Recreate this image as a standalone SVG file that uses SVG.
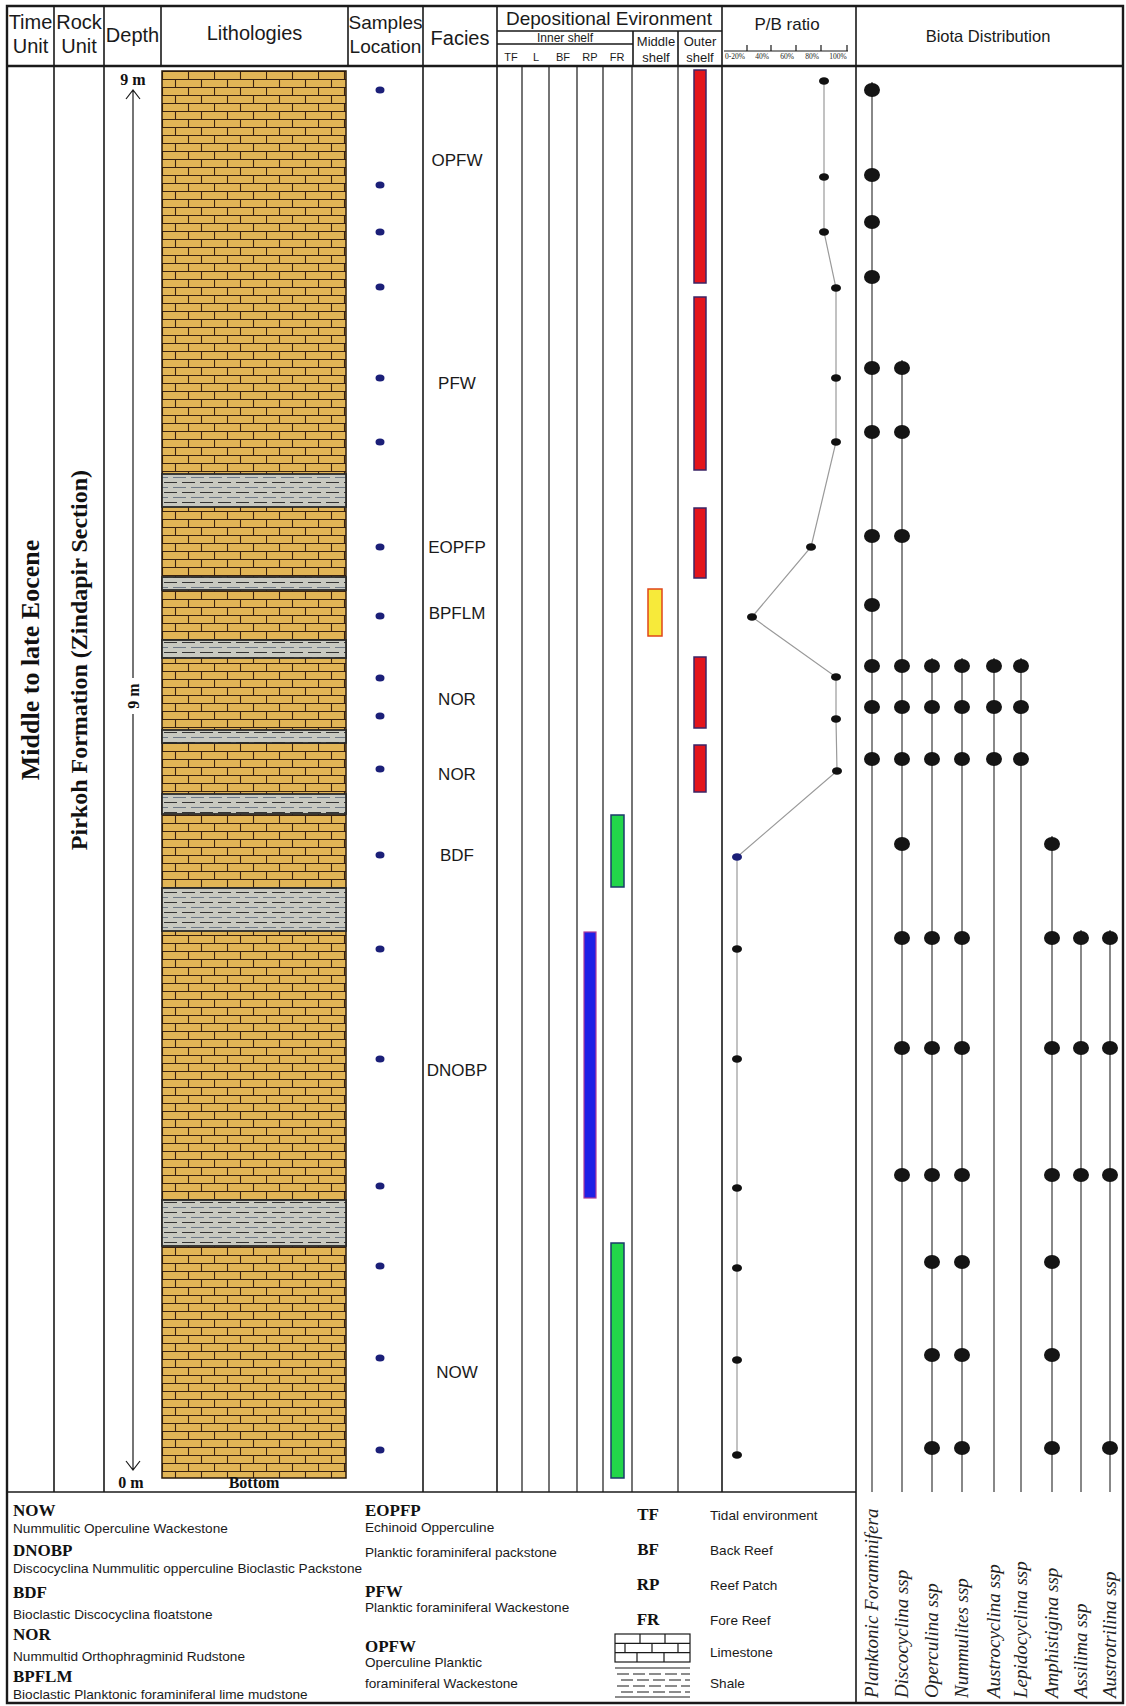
<svg xmlns="http://www.w3.org/2000/svg" width="1126" height="1706" viewBox="0 0 1126 1706">
<style>
.ln{stroke:#1a1a1a;stroke-width:1.6;fill:none}
.lt{stroke:#1a1a1a;stroke-width:1.2;fill:none}
.thk{stroke:#1a1a1a;stroke-width:2.4;fill:none}
.h{font-family:"Liberation Sans",Arial,sans-serif;fill:#1a1a1a;text-anchor:middle}
.bs{font-family:"Liberation Serif","Times New Roman",serif;font-weight:bold;fill:#111}
.fac{font-family:"Liberation Sans",Arial,sans-serif;font-size:17px;fill:#1a1a1a;text-anchor:middle}
.sd{fill:#1b1f78}
.pb{fill:#111}
.bd{fill:#151515}
.bl{stroke:#3a3a3a;stroke-width:1.2}
.bio{font-family:"Liberation Serif","Times New Roman",serif;font-style:italic;font-size:19px;fill:#222}
.lg{font-family:"Liberation Sans",Arial,sans-serif;font-size:13.6px;fill:#1a1a1a}
.lgb{font-family:"Liberation Serif","Times New Roman",serif;font-weight:bold;font-size:17px;fill:#111}
.red{fill:#e3141c;stroke:#3b2466;stroke-width:1.5}
.grn{fill:#22d64a;stroke:#1b3a6a;stroke-width:1.5}
.blu{fill:#1f1fe6;stroke:#b03a9a;stroke-width:1.2}
.yel{fill:#f7ea3a;stroke:#e0451a;stroke-width:1.5}
.shb{stroke:#2a2a2a;stroke-width:1.8}
</style>
<defs>
<pattern id="brick" patternUnits="userSpaceOnUse" x="162" y="71" width="52" height="16">
<rect width="52" height="16" fill="#e2b556"/>
<path d="M0 0.5H52M0 8.5H52M0.5 0V8M26.5 0V8M13.5 8V16M39.5 8V16" stroke="#3a2210" stroke-width="1.1"/>
</pattern>
<pattern id="shale" patternUnits="userSpaceOnUse" x="162" y="0" width="36" height="10">
<rect width="36" height="10" fill="#c8c9c0"/>
<path d="M2 2.5H15M20 2.5H33" stroke="#333" stroke-width="1.2"/>
<path d="M0 7.5H6M11 7.5H24M29 7.5H36" stroke="#6f7a88" stroke-width="1.2"/>
</pattern>
</defs>
<rect width="1126" height="1706" fill="#fff"/>

<g id="frame">
<path class="thk" d="M7 6H1123V1703H7Z"/>
<path class="thk" d="M7 66H1123"/>
<path class="ln" d="M7 1492H856"/>
<path class="ln" d="M54 6V1492M104 6V1492M161 6V66M348 6V66M423 6V1492M497 6V1492M722 6V1492M856 6V1703"/>
<path class="ln" d="M497 31H722M497 44H633M633 31V66M678 31V66"/>
<path class="lt" d="M522 66V1492M549 66V1492M577 66V1492M603 66V1492M632 66V1492M678 66V1492"/>
</g>

<g id="header">
<text class="h" font-size="20" x="30.5" y="29">Time</text>
<text class="h" font-size="20" x="30.5" y="53">Unit</text>
<text class="h" font-size="20" x="79" y="29">Rock</text>
<text class="h" font-size="20" x="79" y="53">Unit</text>
<text class="h" font-size="20" x="132.5" y="42">Depth</text>
<text class="h" font-size="20" x="254.5" y="40">Lithologies</text>
<text class="h" font-size="19" x="385.5" y="29">Samples</text>
<text class="h" font-size="19" x="385.5" y="53">Location</text>
<text class="h" font-size="20" x="460" y="45">Facies</text>
<text class="h" font-size="19" x="609" y="25">Depositional Evironment</text>
<text class="h" font-size="12" x="565" y="42">Inner shelf</text>
<text class="h" font-size="11" x="511" y="61">TF</text>
<text class="h" font-size="11" x="536" y="61">L</text>
<text class="h" font-size="11" x="563" y="61">BF</text>
<text class="h" font-size="11" x="590" y="61">RP</text>
<text class="h" font-size="11" x="617" y="61">FR</text>
<text class="h" font-size="13" x="656" y="46">Middle</text>
<text class="h" font-size="13" x="656" y="62">shelf</text>
<text class="h" font-size="13" x="700" y="46">Outer</text>
<text class="h" font-size="13" x="700" y="62">shelf</text>
<text class="h" font-size="17" x="787" y="30">P/B ratio</text>
<path class="lt" d="M724 51H848M747 45V51M771 45V51M796 45V51M821 45V51M847 45V51"/>
<g font-family="Liberation Serif,serif" font-size="7.5" fill="#222" text-anchor="middle">
<text x="735" y="58.5">0-20%</text><text x="762" y="58.5">40%</text><text x="787" y="58.5">60%</text><text x="812" y="58.5">80%</text><text x="838" y="58.5">100%</text>
</g>
<text class="h" font-size="16.5" x="988" y="42">Biota Distribution</text>
</g>

<g id="time-unit"><text class="bs" font-size="26" text-anchor="middle" transform="translate(39,660) rotate(-90)">Middle to late Eocene</text></g>
<g id="rock-unit"><text class="bs" font-size="24" text-anchor="middle" transform="translate(87,660) rotate(-90)">Pirkoh Formation (Zindapir Section)</text></g>

<g id="depth">
<text class="bs" font-size="16" text-anchor="middle" x="133" y="85">9 m</text>
<path class="lt" d="M126 99L133 90L140 99M133 90V678M133 714V1470M126 1461L133 1470L140 1461"/>
<text class="bs" font-size="16" text-anchor="middle" transform="translate(139,696) rotate(-90)">9 m</text>
<text class="bs" font-size="16" text-anchor="middle" x="131" y="1488">0 m</text>
</g>

<g id="lithology">
<rect x="162" y="71" width="184" height="1407" fill="url(#brick)" stroke="#2a1a0a" stroke-width="1.5"/>
<g fill="url(#shale)" class="shb">
<rect x="162" y="474" width="184" height="33"/>
<rect x="162" y="577" width="184" height="13"/>
<rect x="162" y="640" width="184" height="18"/>
<rect x="162" y="730" width="184" height="13"/>
<rect x="162" y="794" width="184" height="20"/>
<rect x="162" y="888" width="184" height="43"/>
<rect x="162" y="1200" width="184" height="46"/>
</g>
<text class="bs" font-size="16" text-anchor="middle" x="254" y="1488">Bottom</text>
</g>

<g id="samples" class="sd">
<ellipse cx="380" cy="90" rx="4.5" ry="3.5"/><ellipse cx="380" cy="185" rx="4.5" ry="3.5"/><ellipse cx="380" cy="232" rx="4.5" ry="3.5"/><ellipse cx="380" cy="287" rx="4.5" ry="3.5"/><ellipse cx="380" cy="378" rx="4.5" ry="3.5"/><ellipse cx="380" cy="442" rx="4.5" ry="3.5"/><ellipse cx="380" cy="547" rx="4.5" ry="3.5"/><ellipse cx="380" cy="616" rx="4.5" ry="3.5"/><ellipse cx="380" cy="678" rx="4.5" ry="3.5"/><ellipse cx="380" cy="716" rx="4.5" ry="3.5"/><ellipse cx="380" cy="769" rx="4.5" ry="3.5"/><ellipse cx="380" cy="855" rx="4.5" ry="3.5"/><ellipse cx="380" cy="949" rx="4.5" ry="3.5"/><ellipse cx="380" cy="1059" rx="4.5" ry="3.5"/><ellipse cx="380" cy="1186" rx="4.5" ry="3.5"/><ellipse cx="380" cy="1266" rx="4.5" ry="3.5"/><ellipse cx="380" cy="1358" rx="4.5" ry="3.5"/><ellipse cx="380" cy="1450" rx="4.5" ry="3.5"/>
</g>

<g id="facies">
<text class="fac" x="457" y="166">OPFW</text>
<text class="fac" x="457" y="389">PFW</text>
<text class="fac" x="457" y="553">EOPFP</text>
<text class="fac" x="457" y="619">BPFLM</text>
<text class="fac" x="457" y="705">NOR</text>
<text class="fac" x="457" y="780">NOR</text>
<text class="fac" x="457" y="861">BDF</text>
<text class="fac" x="457" y="1076">DNOBP</text>
<text class="fac" x="457" y="1378">NOW</text>
</g>

<g id="environment">
<rect class="red" x="694" y="70" width="12" height="213"/>
<rect class="red" x="694" y="297" width="12" height="173"/>
<rect class="red" x="694" y="508" width="12" height="70"/>
<rect class="red" x="694" y="657" width="12" height="71"/>
<rect class="red" x="694" y="745" width="12" height="47"/>
<rect class="yel" x="648" y="589" width="14" height="47"/>
<rect class="grn" x="611" y="815" width="13" height="72"/>
<rect class="blu" x="584" y="932" width="12" height="266"/>
<rect class="grn" x="611" y="1243" width="13" height="235"/>
</g>

<g id="connectors">
<polyline fill="none" stroke="#9a9a9a" stroke-width="1.2" points="824,81 824,177 824,232 836,288 836,378 836,442 811,547 752,617 836,677 836,719 837,771 737,857 737,949 737,1059 737,1188 737,1268 737,1360 737,1455"/>
</g>

<g id="pb-ratio" class="pb">
<ellipse cx="824" cy="81" rx="5" ry="3.8"/><ellipse cx="824" cy="177" rx="5" ry="3.8"/><ellipse cx="824" cy="232" rx="5" ry="3.8"/><ellipse cx="836" cy="288" rx="5" ry="3.8"/><ellipse cx="836" cy="378" rx="5" ry="3.8"/><ellipse cx="836" cy="442" rx="5" ry="3.8"/><ellipse cx="811" cy="547" rx="5" ry="3.8"/><ellipse cx="752" cy="617" rx="5" ry="3.8"/><ellipse cx="836" cy="677" rx="5" ry="3.8"/><ellipse cx="836" cy="719" rx="5" ry="3.8"/><ellipse cx="837" cy="771" rx="5" ry="3.8"/><ellipse cx="737" cy="857" rx="5" ry="3.8" fill="#1b1f78"/><ellipse cx="737" cy="949" rx="5" ry="3.8"/><ellipse cx="737" cy="1059" rx="5" ry="3.8"/><ellipse cx="737" cy="1188" rx="5" ry="3.8"/><ellipse cx="737" cy="1268" rx="5" ry="3.8"/><ellipse cx="737" cy="1360" rx="5" ry="3.8"/><ellipse cx="737" cy="1455" rx="5" ry="3.8"/>
</g>

<g id="biota">
<path class="bl" d="M872 82V1492M902 360V1492M932 658V1492M962 658V1492M994 658V1492M1021 658V1492M1052 836V1492M1081 930V1492M1110 930V1492"/>
<g class="bd">
<ellipse cx="872" cy="90" rx="8" ry="7"/>
<ellipse cx="872" cy="175" rx="8" ry="7"/>
<ellipse cx="872" cy="222" rx="8" ry="7"/>
<ellipse cx="872" cy="277" rx="8" ry="7"/>
<ellipse cx="872" cy="368" rx="8" ry="7"/><ellipse cx="902" cy="368" rx="8" ry="7"/>
<ellipse cx="872" cy="432" rx="8" ry="7"/><ellipse cx="902" cy="432" rx="8" ry="7"/>
<ellipse cx="872" cy="536" rx="8" ry="7"/><ellipse cx="902" cy="536" rx="8" ry="7"/>
<ellipse cx="872" cy="605" rx="8" ry="7"/>
<ellipse cx="872" cy="666" rx="8" ry="7"/><ellipse cx="902" cy="666" rx="8" ry="7"/><ellipse cx="932" cy="666" rx="8" ry="7"/><ellipse cx="962" cy="666" rx="8" ry="7"/><ellipse cx="994" cy="666" rx="8" ry="7"/><ellipse cx="1021" cy="666" rx="8" ry="7"/>
<ellipse cx="872" cy="707" rx="8" ry="7"/><ellipse cx="902" cy="707" rx="8" ry="7"/><ellipse cx="932" cy="707" rx="8" ry="7"/><ellipse cx="962" cy="707" rx="8" ry="7"/><ellipse cx="994" cy="707" rx="8" ry="7"/><ellipse cx="1021" cy="707" rx="8" ry="7"/>
<ellipse cx="872" cy="759" rx="8" ry="7"/><ellipse cx="902" cy="759" rx="8" ry="7"/><ellipse cx="932" cy="759" rx="8" ry="7"/><ellipse cx="962" cy="759" rx="8" ry="7"/><ellipse cx="994" cy="759" rx="8" ry="7"/><ellipse cx="1021" cy="759" rx="8" ry="7"/>
<ellipse cx="902" cy="844" rx="8" ry="7"/><ellipse cx="1052" cy="844" rx="8" ry="7"/>
<ellipse cx="902" cy="938" rx="8" ry="7"/><ellipse cx="932" cy="938" rx="8" ry="7"/><ellipse cx="962" cy="938" rx="8" ry="7"/><ellipse cx="1052" cy="938" rx="8" ry="7"/><ellipse cx="1081" cy="938" rx="8" ry="7"/><ellipse cx="1110" cy="938" rx="8" ry="7"/>
<ellipse cx="902" cy="1048" rx="8" ry="7"/><ellipse cx="932" cy="1048" rx="8" ry="7"/><ellipse cx="962" cy="1048" rx="8" ry="7"/><ellipse cx="1052" cy="1048" rx="8" ry="7"/><ellipse cx="1081" cy="1048" rx="8" ry="7"/><ellipse cx="1110" cy="1048" rx="8" ry="7"/>
<ellipse cx="902" cy="1175" rx="8" ry="7"/><ellipse cx="932" cy="1175" rx="8" ry="7"/><ellipse cx="962" cy="1175" rx="8" ry="7"/><ellipse cx="1052" cy="1175" rx="8" ry="7"/><ellipse cx="1081" cy="1175" rx="8" ry="7"/><ellipse cx="1110" cy="1175" rx="8" ry="7"/>
<ellipse cx="932" cy="1262" rx="8" ry="7"/><ellipse cx="962" cy="1262" rx="8" ry="7"/><ellipse cx="1052" cy="1262" rx="8" ry="7"/>
<ellipse cx="932" cy="1355" rx="8" ry="7"/><ellipse cx="962" cy="1355" rx="8" ry="7"/><ellipse cx="1052" cy="1355" rx="8" ry="7"/>
<ellipse cx="932" cy="1448" rx="8" ry="7"/><ellipse cx="962" cy="1448" rx="8" ry="7"/><ellipse cx="1052" cy="1448" rx="8" ry="7"/><ellipse cx="1110" cy="1448" rx="8" ry="7"/>
</g>
<text class="bio" transform="translate(878,1698) rotate(-90)">Planktonic Foraminifera</text>
<text class="bio" transform="translate(908,1698) rotate(-90)">Discocyclina ssp</text>
<text class="bio" transform="translate(938,1698) rotate(-90)">Operculina ssp</text>
<text class="bio" transform="translate(968,1698) rotate(-90)">Nummulites ssp</text>
<text class="bio" transform="translate(1000,1698) rotate(-90)">Austrocyclina ssp</text>
<text class="bio" transform="translate(1027,1698) rotate(-90)">Lepidocyclina ssp</text>
<text class="bio" transform="translate(1058,1698) rotate(-90)">Amphistigina ssp</text>
<text class="bio" transform="translate(1087,1698) rotate(-90)">Assilima ssp</text>
<text class="bio" transform="translate(1116,1698) rotate(-90)">Austrotrilina ssp</text>
</g>

<g id="legend">
<text class="lgb" x="13" y="1516">NOW</text>
<text class="lg" x="13" y="1533">Nummulitic Operculine Wackestone</text>
<text class="lgb" x="13" y="1556">DNOBP</text>
<text class="lg" x="13" y="1573">Discocyclina Nummulitic opperculine Bioclastic Packstone</text>
<text class="lgb" x="13" y="1598">BDF</text>
<text class="lg" x="13" y="1619">Bioclastic Discocyclina floatstone</text>
<text class="lgb" x="13" y="1640">NOR</text>
<text class="lg" x="13" y="1661">Nummultid Orthophragminid Rudstone</text>
<text class="lgb" x="13" y="1682">BPFLM</text>
<text class="lg" x="13" y="1699">Bioclastic Planktonic foraminiferal lime mudstone</text>
<text class="lgb" x="365" y="1516">EOPFP</text>
<text class="lg" x="365" y="1532">Echinoid Opperculine</text>
<text class="lg" x="365" y="1557">Planktic foraminiferal packstone</text>
<text class="lgb" x="365" y="1597">PFW</text>
<text class="lg" x="365" y="1612">Planktic foraminiferal Wackestone</text>
<text class="lgb" x="365" y="1652">OPFW</text>
<text class="lg" x="365" y="1667">Operculine Planktic</text>
<text class="lg" x="365" y="1688">foraminiferal Wackestone</text>
<g class="lgb" font-size="19" text-anchor="middle">
<text x="648" y="1520">TF</text><text x="648" y="1555">BF</text><text x="648" y="1590">RP</text><text x="648" y="1625">FR</text>
</g>
<g class="lg" font-size="16">
<text x="710" y="1520">Tidal environment</text><text x="710" y="1555">Back Reef</text><text x="710" y="1590">Reef Patch</text><text x="710" y="1625">Fore Reef</text><text x="710" y="1657">Limestone</text><text x="710" y="1688">Shale</text>
</g>
<g class="lt">
<rect x="615" y="1634" width="75" height="28" fill="#fff"/>
<path d="M615 1643.3H690M615 1652.6H690M640 1634V1643.3M665 1634V1643.3M625 1643.3V1652.6M652 1643.3V1652.6M678 1643.3V1652.6M637 1652.6V1662M664 1652.6V1662"/>
<path d="M615 1668H690M615 1697H690"/>
<path stroke-dasharray="12 4" d="M617 1674H690M621 1680H690M617 1686H690M621 1692H690"/>
</g>
</g>
</svg>
